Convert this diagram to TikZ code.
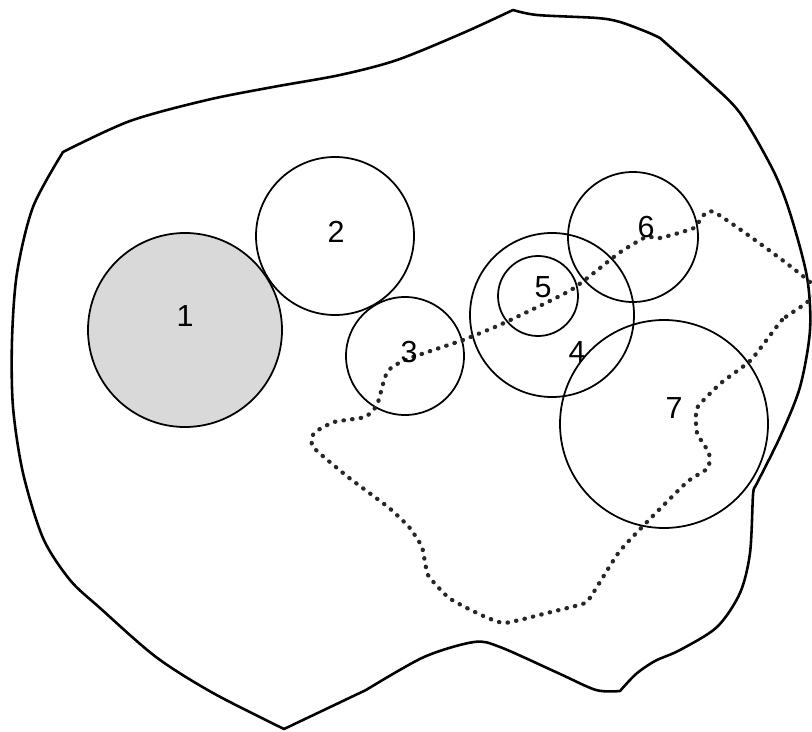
\documentclass[tikz,border=0pt]{standalone}
\usepackage{fontspec}
\setmainfont{Liberation Sans}
\begin{document}
\begin{tikzpicture}[x=0.03cm,y=-0.03cm,line cap=round,line join=round,font=\fontsize{26}{30}\selectfont]
  \useasboundingbox (0,0) rectangle (812,732);
  \tikzset{zone/.style={line width=1.5pt},
    track/.style={line width=3.6pt,dash pattern=on 0.4pt off 7pt,black!85}}
  % outer boundary
  \draw[line width=2.2pt]
    plot[smooth] coordinates {(63,152) (130,121) (207,100) (273,87) (340,75) (397,60) (463,33) (513,10)}
    -- plot[smooth] coordinates {(513,10) (537,15) (597,18) (620,22) (647,32) (660,38)}
    -- plot[smooth] coordinates {(660,38) (707,80) (740,113) (773,170) (790,213) (807,277) (810,330) (800,387) (780,437) (755,487)}
    -- plot[smooth] coordinates {(755,487) (753,495) (750,553) (740,593) (717,627) (680,650) (655,661) (636,674) (620,691)}
    -- plot[smooth] coordinates {(620,691) (596,690) (558,673) (500,647) (474,642) (424,657) (366,690)}
    -- plot[smooth] coordinates {(284,729) (213,693) (156,657) (100,608) (70,580) (43,538) (23,473) (13,407) (12,340) (17,273) (33,207) (63,152)}
    -- cycle;
  % circles
  \coordinate (C1) at (185,330);
  \coordinate (C2) at (335,236);
  \coordinate (C3) at (405,356);
  \coordinate (C4) at (552,315);
  \coordinate (C5) at (538,296);
  \coordinate (C6) at (633,237);
  \coordinate (C7) at (664,424);
  \draw[zone,fill=gray!30] (C1) circle (97);
  \draw[zone] (C2) circle (79);
  \draw[zone] (C3) circle (59);
  \draw[zone] (C4) circle (82);
  \draw[zone] (C5) circle (40);
  \draw[zone] (C6) circle (65);
  \draw[zone] (C7) circle (104);
  % dotted track
  \draw[track] plot[smooth cycle,tension=0.3] coordinates {(816,288) (782,320) (751,360) (721,383)
    (697,408) (697,433) (709,453) (708,468) (687,482) (646,523) (619,552) (595,590) (585,603)
    (551,612) (504,623) (477,613) (449,598) (428,575) (422,547) (409,527) (388,507) (348,477)
    (313,447) (314,433) (334,422) (365,417) (377,405) (385,377) (392,367) (410,358) (463,340)
    (504,323) (571,290) (619,253) (646,237) (660,238) (694,228) (714,212)};
  % labels
  \node (L1) at (185,316) {1};
  \node (L2) at (336,232) {2};
  \node (L3) at (409,352) {3};
  \node (L4) at (577,352) {4};
  \node (L5) at (543,287) {5};
  \node (L6) at (646,227) {6};
  \node (L7) at (674,408) {7};
\end{tikzpicture}
\end{document}
